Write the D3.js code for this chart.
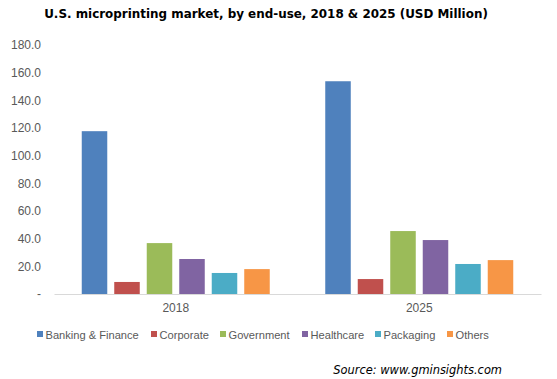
<!DOCTYPE html>
<html><head><meta charset="utf-8">
<script src="https://cdn.jsdelivr.net/npm/d3@7"></script>
<style>body{margin:0;background:#fff}</style>
</head><body>
<svg id="c" width="557" height="379"></svg>
<script>
const years = ["2018", "2025"];
const segments = ["Banking & Finance", "Corporate", "Government", "Healthcare", "Packaging", "Others"];
const values2018 = [117.7, 8.7, 36.8, 25.3, 15.2, 18.0];
const values2025 = [153.8, 10.8, 45.5, 39.0, 21.7, 24.5];
const colors = ["#4f81bd", "#c0504d", "#9bbb59", "#8064a2", "#4bacc6", "#f79646"];
const yTicks = [0, 20, 40, 60, 80, 100, 120, 140, 160, 180];

(function(){
const svg = d3.select("#c");
const pLeft = 54, pRight = 541, pTop = 45, pBottom = 294;
const sans = "'Liberation Sans', Arial, sans-serif";
const y = d3.scaleLinear().domain([0, 180]).range([pBottom, pTop]);
const x0 = d3.scaleBand().domain(years).range([pLeft, pRight]).padding(0);
const groupW = 188;
const x1 = d3.scaleBand().domain(segments).range([0, groupW]).paddingInner(0.215).paddingOuter(0);
const series = {"2018": values2018, "2025": values2025};

// title
const title = svg.append("text").attr("x", 266).attr("y", 18).attr("text-anchor", "middle")
  .style("font-family", "Verdana, 'DejaVu Sans', sans-serif").style("font-weight", "bold")
  .style("font-size", "13px").attr("fill", "#000")
  .text("U.S. microprinting market, by end-use, 2018 & 2025 (USD Million)");
const tw = title.node().getComputedTextLength();
title.style("font-size", (13 * 444 / tw) + "px");

// y axis labels
const yAxis = d3.axisLeft(y).tickValues(yTicks).tickSize(0).tickPadding(13)
  .tickFormat(d => d === 0 ? "-" : d3.format(".1f")(d));
const gy = svg.append("g").attr("transform", `translate(${pLeft},0)`).call(yAxis);
gy.select(".domain").remove();
gy.selectAll("text").style("font-family", sans)
  .style("font-size", "12px").attr("fill", "#595959");

// bars
years.forEach(yr => {
  const g = svg.append("g").attr("transform", `translate(${x0(yr) + (x0.bandwidth() - groupW) / 2},0)`);
  g.selectAll("rect").data(segments.map((s, i) => ({s, v: series[yr][i], c: colors[i]})))
    .enter().append("rect")
    .attr("x", d => x1(d.s)).attr("width", x1.bandwidth())
    .attr("y", d => y(d.v)).attr("height", d => pBottom - y(d.v))
    .attr("fill", d => d.c);
});

// x axis
const xAxis = d3.axisBottom(x0).tickSize(0).tickPadding(9);
const gx = svg.append("g").attr("transform", `translate(0,${pBottom})`).call(xAxis);
gx.select(".domain").attr("stroke", "#d9d9d9").attr("stroke-width", 1.2);
gx.selectAll("text").style("font-family", sans)
  .style("font-size", "12px").attr("fill", "#595959");

// legend
const legX = [37, 151, 220, 302, 375, 447];
const lg = svg.append("g");
const texts = [];
segments.forEach((s, i) => {
  lg.append("rect").attr("x", legX[i]).attr("y", 331).attr("width", 6).attr("height", 6).attr("fill", colors[i]);
  texts.push(lg.append("text").attr("x", legX[i] + 8.5).attr("y", 338.5)
    .style("font-family", sans).style("font-size", "12px")
    .attr("fill", "#595959").text(s));
});
// fit legend font to the reference total text width
const total = d3.sum(texts, t => t.node().getComputedTextLength());
const target = 93.6 + 49.7 + 61 + 53.7 + 52 + 33.3;
texts.forEach(t => t.style("font-size", (12 * target / total) + "px"));

// source
const src = svg.append("text").attr("x", 502).attr("y", 374).attr("text-anchor", "end")
  .style("font-family", "Verdana, 'DejaVu Sans', sans-serif").style("font-style", "italic")
  .style("font-size", "13px").attr("fill", "#000").text("Source: www.gminsights.com");
const sw = src.node().getComputedTextLength();
src.style("font-size", (13 * 169 / sw) + "px");
})();
</script>
</body></html>
